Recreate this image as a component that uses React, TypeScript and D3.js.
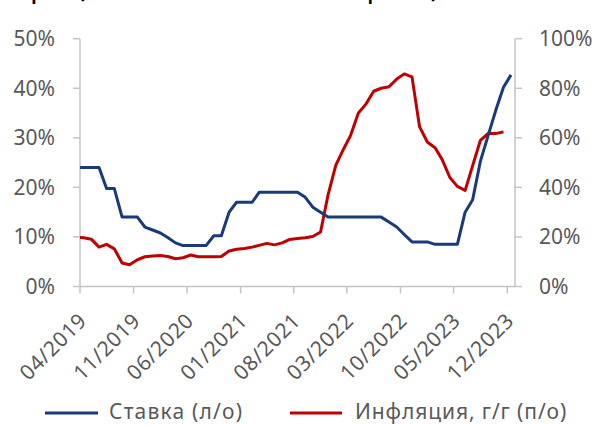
import React from "react";
import * as d3 from "d3";

const months: string[] = [
  "2019-03","2019-04","2019-05","2019-06","2019-07","2019-08","2019-09","2019-10","2019-11","2019-12",
  "2020-01","2020-02","2020-03","2020-04","2020-05","2020-06","2020-07","2020-08","2020-09","2020-10","2020-11","2020-12",
  "2021-01","2021-02","2021-03","2021-04","2021-05","2021-06","2021-07","2021-08","2021-09","2021-10","2021-11","2021-12",
  "2022-01","2022-02","2022-03","2022-04","2022-05","2022-06","2022-07","2022-08","2022-09","2022-10","2022-11","2022-12",
  "2023-01","2023-02","2023-03","2023-04","2023-05","2023-06","2023-07","2023-08","2023-09","2023-10","2023-11","2023-12",
];

const keyRate: number[] = [
  24, 24, 24, 24, 19.75, 19.75, 14, 14, 14, 12,
  11.4, 10.8, 9.9, 8.8, 8.25, 8.25, 8.25, 8.25, 10.25, 10.25, 15, 17,
  17, 17, 19, 19, 19, 19, 19, 19, 18, 16, 15, 14,
  14, 14, 14, 14, 14, 14, 14, 13, 12, 10.5, 9, 9,
  9, 8.5, 8.5, 8.5, 8.5, 15, 17.5, 25.3, 30.5, 35.5, 40.2, 42.7,
];

const inflation: (number | null)[] = [
  19.8, 19.7, 19.1, 15.9, 17.0, 15.2, 9.5, 8.8, 10.8, 12.0,
  12.3, 12.5, 12.1, 11.2, 11.6, 12.7, 12.0, 12.0, 12.0, 12.1, 14.3, 15.0,
  15.3, 15.9, 16.6, 17.4, 16.8, 17.6, 19.0, 19.4, 19.7, 20.2, 22.0, 37.0,
  49.0, 55.5, 61.0, 70.0, 73.6, 78.8, 80.0, 80.6, 83.7, 85.8, 84.6, 64.5,
  58.3, 56.0, 51.3, 44.0, 40.4, 38.8, 48.8, 59.0, 61.8, 61.7, 62.4, null,
];

const xTickLabels: string[] = ["04/2019","11/2019","06/2020","01/2021","08/2021","03/2022","10/2022","05/2023","12/2023"];
const leftTicks: number[] = [0, 10, 20, 30, 40, 50];
const rightTicks: number[] = [0, 20, 40, 60, 80, 100];
const seriesNames: string[] = ["Ставка (л/о)", "Инфляция, г/г (п/о)"];
const titleText = "Процентная ставка и инфляция";

const W = 599, H = 425;
const L = 80, R = 515, T = 38.7, B = 286.5;
const FONT = "'Noto Sans', sans-serif";
const AXIS = "#c4c4c4";
const TXT = "#595959";
const BLUE = "#1a3a78";
const RED = "#c00000";

const parseMonth = (s: string) => {
  const [y, m] = s.split("-").map(Number);
  return new Date(y, m - 1, 16);
};
const parseTick = (s: string) => {
  const [m, y] = s.split("/").map(Number);
  return new Date(y, m - 1, 1);
};

export default function App() {
  const x = d3.scaleTime().domain([new Date(2019, 3, 1), new Date(2024, 0, 1)]).range([L, R]);
  const yL = d3.scaleLinear().domain([0, 50]).range([B, T]);
  const yR = d3.scaleLinear().domain([0, 100]).range([B, T]);

  const dates = months.map(parseMonth);
  const rateLine = d3.line<number>().x((_, i) => x(dates[i])).y((d) => yL(d));
  const inflLine = d3
    .line<number | null>()
    .defined((d) => d !== null)
    .x((_, i) => x(dates[i]))
    .y((d) => yR(d as number));

  return (
    <svg width={W} height={H} style={{ position: "absolute", left: 0, top: 0, background: "#fff" }} fontFamily={FONT}>
      <defs>
        <clipPath id="plot">
          <rect x={L} y={0} width={R - L} height={H} />
        </clipPath>
      </defs>
      <text x={8} y={-3} fontSize={30} fill="#000">{titleText}</text>

      {/* left axis */}
      <line x1={L} x2={L} y1={T} y2={B} stroke={AXIS} strokeWidth={1.5} />
      {leftTicks.map((t) => (
        <g key={"l" + t}>
          <line x1={L - 7} x2={L} y1={yL(t)} y2={yL(t)} stroke={AXIS} strokeWidth={1.5} />
          <text x={55} y={yL(t)} dy="0.35em" textAnchor="end" fontSize={21} fill={TXT}>{t + "%"}</text>
        </g>
      ))}
      {/* right axis */}
      <line x1={R} x2={R} y1={T} y2={B} stroke={AXIS} strokeWidth={1.5} />
      {rightTicks.map((t) => (
        <g key={"r" + t}>
          <line x1={R} x2={R + 7} y1={yR(t)} y2={yR(t)} stroke={AXIS} strokeWidth={1.5} />
          <text x={539} y={yR(t)} dy="0.35em" textAnchor="start" fontSize={21} fill={TXT}>{t + "%"}</text>
        </g>
      ))}
      {/* bottom axis */}
      <line x1={L} x2={R} y1={B} y2={B} stroke={AXIS} strokeWidth={1.5} />
      {xTickLabels.map((s) => {
        const tx = x(parseTick(s));
        return (
          <g key={s}>
            <line x1={tx} x2={tx} y1={B} y2={B + 7} stroke={AXIS} strokeWidth={1.5} />
            <text transform={`translate(${tx + 8},${322}) rotate(-45)`} textAnchor="end" fontSize={21} letterSpacing={0.6} fill={TXT}>{s}</text>
          </g>
        );
      })}

      <g clipPath="url(#plot)">
        <path d={inflLine(inflation) || ""} fill="none" stroke={RED} strokeWidth={3} strokeLinejoin="round" />
        <path d={rateLine(keyRate) || ""} fill="none" stroke={BLUE} strokeWidth={3} strokeLinejoin="round" />
      </g>

      {/* legend */}
      <line x1={45} x2={98} y1={413} y2={413} stroke={BLUE} strokeWidth={3} />
      <text x={109} y={419} fontSize={21} letterSpacing={1.2} fill={TXT}>{seriesNames[0]}</text>
      <line x1={290} x2={342} y1={413} y2={413} stroke={RED} strokeWidth={3} />
      <text x={355} y={419} fontSize={21} letterSpacing={0.9} fill={TXT}>{seriesNames[1]}</text>
    </svg>
  );
}
